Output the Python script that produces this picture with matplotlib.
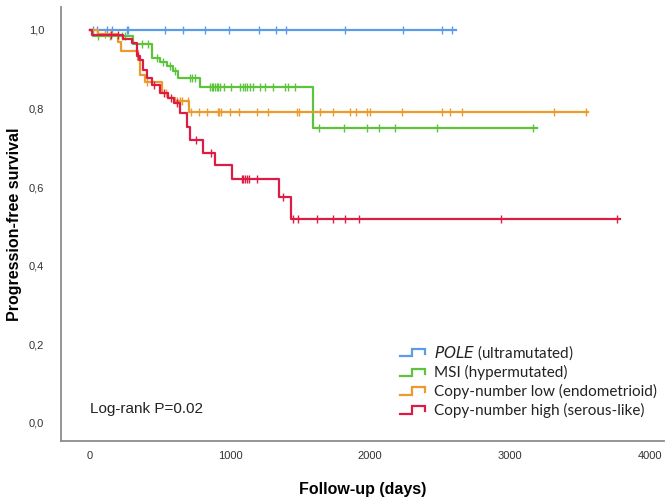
import numpy as np
import matplotlib
matplotlib.use('Agg')
import matplotlib.pyplot as plt
from matplotlib.lines import Line2D
from matplotlib.legend_handler import HandlerBase
from matplotlib.ticker import FuncFormatter

# step times (days) and survival after each step, censor times, last follow-up
pole_t = [0]
pole_s = [1.0]
pole_censor = [21, 50, 121, 157, 264, 271, 536, 664, 821, 993, 1207, 1329, 1400,
               1821, 2236, 2514, 2586]
pole_end = 2614

msi_t = [0, 24, 305, 440, 500, 548, 595, 631, 786, 1595]
msi_s = [1.0, 0.983, 0.964, 0.928, 0.919, 0.907, 0.896, 0.877, 0.855, 0.750]
msi_censor = [60, 143, 226, 250, 369, 417, 476, 524, 571, 607, 714, 729, 750,
              857, 871, 879, 893, 907, 914, 929, 957, 1007, 1071, 1093, 1107,
              1121, 1143, 1164, 1214, 1250, 1307, 1393, 1414, 1464, 1636, 1814,
              1979, 2064, 2179, 2479, 3164]
msi_end = 3190

cnl_t = [0, 59, 202, 221, 345, 357, 393, 512, 560, 607, 705]
cnl_s = [1.0, 0.990, 0.969, 0.947, 0.924, 0.885, 0.868, 0.840, 0.826, 0.820, 0.792]
cnl_censor = [110, 150, 405, 540, 620, 640, 660, 698, 721, 779, 836, 914, 921,
              936, 1000, 1064, 1193, 1271, 1479, 1493, 1643, 1736, 1857, 1900,
              1979, 2000, 2229, 2514, 2571, 2657, 3314, 3543]
cnl_end = 3560

cnh_t = [0, 17, 238, 298, 333, 357, 381, 405, 440, 500, 560, 600, 640, 690, 714,
         810, 893, 1012, 1350, 1436]
cnh_s = [1.0, 0.988, 0.976, 0.966, 0.934, 0.924, 0.898, 0.877, 0.860, 0.839,
         0.826, 0.813, 0.788, 0.754, 0.720, 0.686, 0.655, 0.621, 0.574, 0.518]
cnh_censor = [150, 200, 345, 455, 530, 580, 620, 757, 864, 1083, 1095, 1107,
              1119, 1138, 1190, 1376, 1452, 1488, 1619, 1733, 1821, 1921, 2933,
              3762]
cnh_end = 3786

labels = ['$\\it{POLE}$ (ultramutated)', 'MSI (hypermutated)',
          'Copy-number low (endometrioid)', 'Copy-number high (serous-like)']
colors = ['#5b9bea', '#5cc43c', '#eb9a2c', '#dc1c44']


class StepHandler(HandlerBase):
    def create_artists(self, legend, orig_handle, xdescent, ydescent,
                       width, height, fontsize, trans):
        xs = np.array([0, 0.45, 0.45, 0.95, 0.95]) * width - xdescent
        ys = np.array([0.1, 0.1, 0.8, 0.8, 0.35]) * height - ydescent
        ln = Line2D(xs, ys, color=orig_handle.get_color(), lw=1.6,
                    solid_joinstyle='miter')
        ln.set_transform(trans)
        return [ln]


def km_curve(ax, t, s, censor, end, color):
    xs = list(t) + [end]
    ys = list(s) + [s[-1]]
    line, = ax.step(xs, ys, where='post', color=color, lw=1.6)
    idx = np.searchsorted(t, censor, side='right') - 1
    cy = np.array(s)[idx]
    ax.plot(censor, cy, linestyle='none', marker='|', markersize=6,
            markeredgewidth=1.0, color=color)
    return line


fig = plt.figure(figsize=(6.68, 5.0), dpi=100)
ax = fig.add_axes([61 / 668, 59 / 500, 603 / 668, 434 / 500])

handles = []
handles.append(km_curve(ax, pole_t, pole_s, pole_censor, pole_end, colors[0]))
handles.append(km_curve(ax, msi_t, msi_s, msi_censor, msi_end, colors[1]))
handles.append(km_curve(ax, cnl_t, cnl_s, cnl_censor, cnl_end, colors[2]))
handles.append(km_curve(ax, cnh_t, cnh_s, cnh_censor, cnh_end, colors[3]))

ax.set_xlim(-207, 4100)
ax.set_ylim(-0.046, 1.058)
ax.set_xticks([0, 1000, 2000, 3000, 4000])
ax.set_yticks([0, 0.2, 0.4, 0.6, 0.8, 1.0])
ax.yaxis.set_major_formatter(FuncFormatter(lambda v, p: '{:.1f}'.format(v).replace('.', ',')))
ax.tick_params(length=0, labelsize=8, colors='#333333')
ax.tick_params(axis='x', pad=7)
ax.tick_params(axis='y', pad=12)
for lab in ax.get_xticklabels() + ax.get_yticklabels():
    lab.set_family('Liberation Sans')

for side in ['top', 'right']:
    ax.spines[side].set_visible(False)
for side in ['left', 'bottom']:
    ax.spines[side].set_color('#8c8c8c')
    ax.spines[side].set_linewidth(1.3)

ax.set_xlabel('Follow-up (days)', fontsize=11.5, fontweight='bold',
              family='Liberation Sans', labelpad=15)
ax.set_ylabel('Progression-free survival', fontsize=11.5, fontweight='bold',
              family='Liberation Sans', labelpad=5)

fig.text(90 / 668, (500 - 409) / 500, 'Log-rank P=0.02', fontsize=11,
         family='Liberation Sans', va='center', ha='left', color='#222222')

leg = fig.legend(handles, labels, loc='upper left',
                 bbox_to_anchor=(400 / 668, (500 - 343) / 500),
                 frameon=False, borderpad=0, borderaxespad=0,
                 handler_map={Line2D: StepHandler()},
                 handlelength=1.7, handletextpad=0.5, labelspacing=0.24,
                 prop={'family': 'Lato', 'size': 11})
for txt in leg.get_texts():
    txt.set_color('#222222')

fig.savefig('out.png', dpi=100)
